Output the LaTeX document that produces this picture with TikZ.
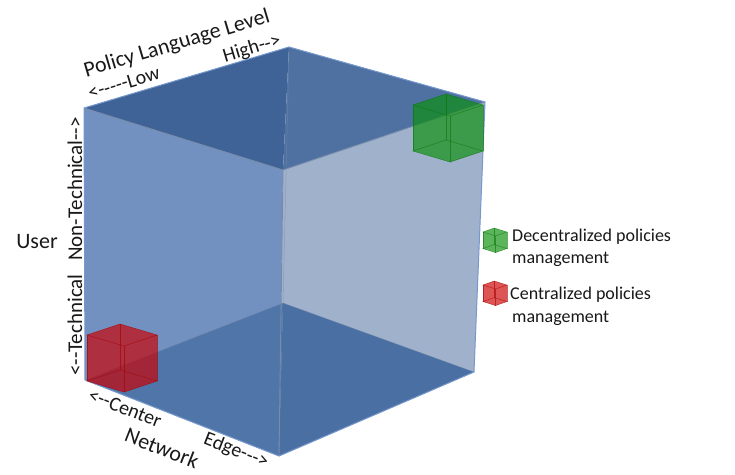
\documentclass[tikz,border=0pt]{standalone}
\usepackage{fontspec}
\setmainfont{Carlito}[Ligatures=TeXOff]
\definecolor{topL}{RGB}{63,99,150}
\definecolor{topR}{RGB}{78,113,162}
\definecolor{leftF}{RGB}{114,145,192}
\definecolor{rightF}{RGB}{160,177,204}
\definecolor{botL}{RGB}{80,117,168}
\definecolor{botR}{RGB}{74,111,162}
\definecolor{edgeC}{RGB}{118,152,205}
\definecolor{innerC}{RGB}{120,140,170}
\definecolor{txt}{RGB}{25,25,25}
\definecolor{gcube}{RGB}{10,145,10}
\definecolor{rcube}{RGB}{205,0,0}
\tikzset{
  lab/.style={text=txt, inner sep=0pt},
  big/.style={font=\fontsize{22}{26}\selectfont},
  vert/.style={font=\fontsize{21}{25}\selectfont},
  mid/.style={font=\fontsize{20}{24}\selectfont},
  leg/.style={font=\fontsize{18}{22}\selectfont, anchor=base west},
  pics/tcube/.style={code={
    \begin{scope}[fill=#1, fill opacity=0.42]
      \fill (0,0) -- (33,-11) -- (33,35) -- (0,46) -- cycle;
      \fill (33,-11) -- (70,0) -- (70,46) -- (33,35) -- cycle;
      \fill (0,46) -- (33,35) -- (70,46) -- (37,57) -- cycle;
      \fill (0,0) -- (37,11) -- (37,57) -- (0,46) -- cycle;
      \fill (37,11) -- (70,0) -- (70,46) -- (37,57) -- cycle;
      \fill (0,0) -- (33,-11) -- (70,0) -- (37,11) -- cycle;
    \end{scope}
    \begin{scope}[draw=#1!80!black, draw opacity=0.6, line width=0.5pt]
      \draw (0,0) -- (33,-11) -- (70,0) -- (37,11) -- cycle;
      \draw (0,46) -- (33,35) -- (70,46) -- (37,57) -- cycle;
      \draw (0,0) -- (0,46) (33,-11) -- (33,35) (70,0) -- (70,46) (37,11) -- (37,57);
    \end{scope}
  }}
}
\begin{document}
\begin{tikzpicture}[x=1pt,y=-1pt]
\useasboundingbox (0,0) rectangle (735,474);
\fill[white] (0,0) rectangle (735,474);
% big cube vertices
\coordinate (L) at (84,108);
\coordinate (B) at (289,47);
\coordinate (R) at (485,102);
\coordinate (F) at (283,170);
\coordinate (Lb) at (85,380);
\coordinate (Bb) at (283,303);
\coordinate (Rb) at (474,372);
\coordinate (Fb) at (279,456);
% faces
\fill[leftF] (L) -- (F) -- (Fb) -- (Lb) -- cycle;
\fill[rightF] (F) -- (R) -- (Rb) -- (Fb) -- cycle;
\fill[botL] (Lb) -- (Bb) -- (Fb) -- cycle;
\fill[botR] (Bb) -- (Rb) -- (Fb) -- cycle;
\fill[topL] (L) -- (B) -- (F) -- cycle;
\fill[topR] (B) -- (R) -- (F) -- cycle;
% edges
\draw[innerC, line width=0.9pt] (L) -- (F) -- (R);
\draw[innerC, line width=0.9pt] (F) -- (Fb);
\draw[innerC, line width=0.5pt, opacity=0.6] (B) -- (Bb) (Lb) -- (Bb) -- (Rb);
\draw[edgeC, line width=1pt] (L) -- (B) -- (R) -- (Rb) -- (Fb) -- (Lb) -- cycle;
% small cubes
\pic at (413,105) {tcube=gcube};
\pic at (87,335) {tcube=rcube};
% top labels
\node[lab, big, rotate=16.6] (pll) at (177,44) {Policy Language Level};
\node[lab, mid, rotate=16.6] (low) at (124,83) {<-----Low};
\node[lab, mid, rotate=16.6] (high) at (252,49) {High-->};
% left labels
\node[lab, big] (user) at (37,242) {User};
\node[lab, vert, rotate=90] (nontech) at (75,189) {Non-Technical-->};
\node[lab, vert, rotate=90] (tech) at (75,325) {<--Technical};
% bottom labels
\node[lab, mid, rotate=-21.4] (center) at (125,408) {<--Center};
\node[lab, big, rotate=-21.4] (net) at (162,448) {Network};
\node[lab, mid, rotate=-21.4] (edge) at (236,451) {Edge--->};
% legend
\pic[xscale=0.34, yscale=0.36] at (483,232) {tcube=gcube};
\pic[xscale=0.34, yscale=0.36] at (483,285) {tcube=rcube};
\node[lab, leg] (dec1) at (512,241) {Decentralized policies};
\node[lab, leg] (dec2) at (512,263) {management};
\node[lab, leg] (cen1) at (510,299) {Centralized policies};
\node[lab, leg] (cen2) at (512,322) {management};
\end{tikzpicture}
\end{document}
